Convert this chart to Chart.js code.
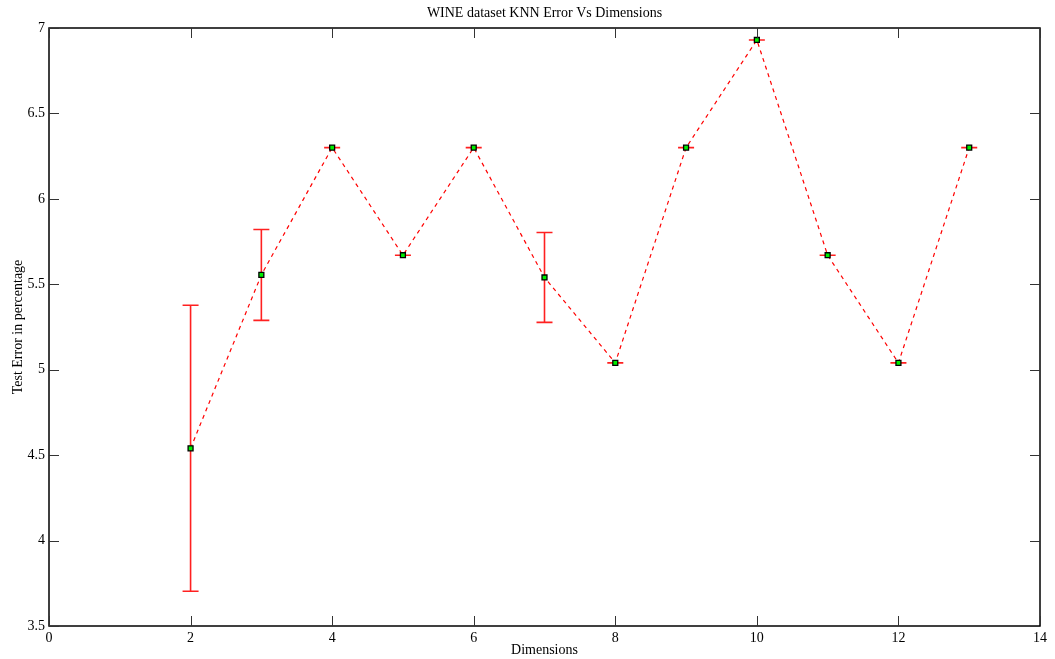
<!DOCTYPE html>
<html><head><meta charset="utf-8">
<script src="https://cdn.jsdelivr.net/npm/chart.js@4"></script>
<style>html,body{margin:0;padding:0;background:#fff;}#wrap{width:1055px;height:659px;}</style>
</head><body><div id="wrap"><canvas id="c"></canvas></div>
<script>
const dimensions = [2, 3, 4, 5, 6, 7, 8, 9, 10, 11, 12, 13];
const testError = [4.54, 5.555, 6.30, 5.67, 6.30, 5.54, 5.04, 6.30, 6.93, 5.67, 5.04, 6.30];
const errorSize = [0.837, 0.266, 0, 0, 0, 0.263, 0, 0, 0, 0, 0, 0];
const xTicks = [0, 2, 4, 6, 8, 10, 12, 14];
const yTicks = [3.5, 4, 4.5, 5, 5.5, 6, 6.5, 7];
const titleText = 'WINE dataset KNN Error Vs Dimensions';
const xTitle = 'Dimensions';
const yTitle = 'Test Error in percentage';

const serif = '"Liberation Serif", "DejaVu Serif", serif';

const framePlugin = {
  id: 'frame',
  beforeDatasetsDraw(chart) {
    const ctx = chart.ctx, xs = chart.scales.x, ys = chart.scales.y;
    ctx.save();
    ctx.strokeStyle = '#ff2020';
    ctx.lineWidth = 1.6;
    dimensions.forEach((d, i) => {
      const px = xs.getPixelForValue(d);
      const top = ys.getPixelForValue(testError[i] + errorSize[i]);
      const bot = ys.getPixelForValue(testError[i] - errorSize[i]);
      ctx.beginPath();
      ctx.moveTo(px, top); ctx.lineTo(px, bot);
      ctx.moveTo(px - 8, top); ctx.lineTo(px + 8, top);
      ctx.moveTo(px - 8, bot); ctx.lineTo(px + 8, bot);
      ctx.stroke();
    });
    ctx.restore();
  },
  afterDraw(chart) {
    const ctx = chart.ctx, a = chart.chartArea, xs = chart.scales.x, ys = chart.scales.y;
    ctx.save();
    ctx.strokeStyle = '#000';
    ctx.lineWidth = 1.5;
    ctx.strokeRect(a.left, a.top, a.right - a.left, a.bottom - a.top);
    ctx.lineWidth = 1;
    ctx.strokeStyle = '#333';
    ctx.beginPath();
    xTicks.forEach(v => {
      const px = Math.round(xs.getPixelForValue(v)) + 0.5;
      ctx.moveTo(px, a.bottom); ctx.lineTo(px, a.bottom - 10);
      ctx.moveTo(px, a.top); ctx.lineTo(px, a.top + 10);
    });
    yTicks.forEach(v => {
      const py = Math.round(ys.getPixelForValue(v)) + 0.5;
      ctx.moveTo(a.left, py); ctx.lineTo(a.left + 10, py);
      ctx.moveTo(a.right, py); ctx.lineTo(a.right - 10, py);
    });
    ctx.stroke();
    ctx.fillStyle = '#000';
    ctx.font = '14px ' + serif;
    ctx.textAlign = 'center';
    ctx.textBaseline = 'middle';
    ctx.fillText(titleText, (a.left + a.right) / 2, 13);
    ctx.restore();
  }
};

new Chart(document.getElementById('c'), {
  type: 'line',
  data: {
    datasets: [{
      data: dimensions.map((d, i) => ({x: d, y: testError[i]})),
      borderColor: '#ff0000',
      borderWidth: 1.2,
      borderDash: [4, 4],
      pointStyle: 'rect',
      pointRadius: 3.5,
      pointBackgroundColor: '#00ee00',
      pointBorderColor: '#000',
      pointBorderWidth: 1.3,
      tension: 0
    }]
  },
  options: {
    responsive: true,
    maintainAspectRatio: false,
    animation: false,
    layout: {padding: {top: 28, right: 15, left: 0, bottom: 0}},
    plugins: {legend: {display: false}, title: {display: false}, tooltip: {enabled: false}},
    scales: {
      x: {
        type: 'linear', min: 0, max: 14,
        afterBuildTicks: s => { s.ticks = xTicks.map(v => ({value: v})); },
        afterFit: s => { s.height = 33; },
        grid: {display: false, drawTicks: false},
        border: {display: false},
        ticks: {color: '#000', font: {family: serif, size: 14}, padding: 4, maxRotation: 0,
                callback: v => String(v)},
        title: {display: true, text: xTitle, color: '#000', font: {family: serif, size: 14}, padding: {top: -1, bottom: 0}}
      },
      y: {
        type: 'linear', min: 3.5, max: 7,
        afterBuildTicks: s => { s.ticks = yTicks.map(v => ({value: v})); },
        afterFit: s => { s.width = 49; },
        grid: {display: false, drawTicks: false},
        border: {display: false},
        ticks: {color: '#000', font: {family: serif, size: 14}, padding: 4,
                callback: v => String(v)},
        title: {display: true, text: yTitle, color: '#000', font: {family: serif, size: 14}, padding: {top: 10, bottom: 4}}
      }
    }
  },
  plugins: [framePlugin]
});
</script></body></html>
